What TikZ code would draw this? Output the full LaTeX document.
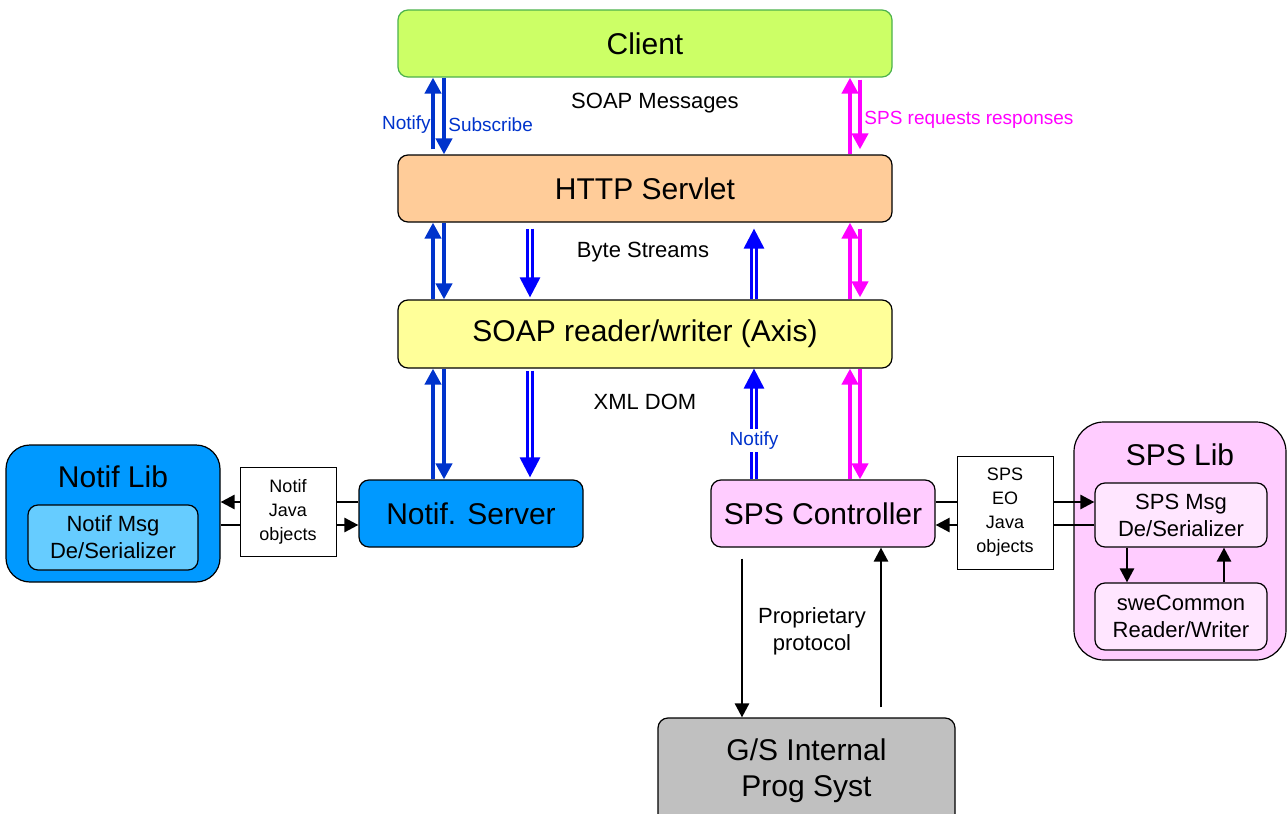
\documentclass[tikz,border=0pt]{standalone}
\usepackage{fontspec}
\setmainfont{Liberation Sans}
\usetikzlibrary{arrows.meta}

\definecolor{clientgreen}{HTML}{CCFF66}
\definecolor{servletorange}{HTML}{FFCC99}
\definecolor{soapyellow}{HTML}{FFFF99}
\definecolor{notifblue}{HTML}{0099FF}
\definecolor{notiflight}{HTML}{66CCFF}
\definecolor{spspink}{HTML}{FFCCFF}
\definecolor{spslight}{HTML}{FFE6FF}
\definecolor{gsgray}{HTML}{C0C0C0}
\definecolor{darkblue}{HTML}{0033CC}
\definecolor{pureblue}{HTML}{0000FF}
\definecolor{magentapink}{HTML}{FF00FF}

\begin{document}
\begin{tikzpicture}[x=0.5pt, y=-0.5pt,
    box/.style={draw, rounded corners=5pt, line width=0.6pt, align=center,
      font=\fontsize{15}{18}\selectfont},
    title/.style={font=\fontsize{15}{18}\selectfont},
    subbox/.style={draw, rounded corners=5pt, line width=0.6pt, align=center,
      font=\fontsize{11}{13.5}\selectfont},
    objbox/.style={draw, fill=white, line width=0.5pt, align=center,
      font=\fontsize{9}{12}\selectfont},
    lbl/.style={font=\fontsize{11}{13.5}\selectfont, align=center},
    smalllbl/.style={anchor=west, inner sep=0pt, font=\fontsize{9.5}{11}\selectfont},
    bluearrow/.style={draw=darkblue, line width=2pt, -{Triangle[length=8pt,width=8pt]}},
    pinkarrow/.style={draw=magentapink, line width=2pt, -{Triangle[length=8pt,width=8pt]}},
    dblarrow/.style={draw=pureblue, double=white, double distance=0.6pt, line width=1.5pt,
      -{Triangle[length=10pt,width=10pt]}},
    blackarrow/.style={draw=black, line width=1.3pt, -{Triangle[length=7pt,width=7pt]}}]

  \clip (0,0) rectangle (1287,814);

  % main stack
  \node[box, fill=clientgreen, draw=green!40!gray, minimum width=247pt, minimum height=33.5pt] (client) at (645,43.5) {Client};
  \node[box, fill=servletorange, minimum width=247pt, minimum height=33.5pt] (servlet) at (645,188.5) {HTTP Servlet};
  \node[box, fill=soapyellow, minimum width=247pt, minimum height=34pt] (soap) at (645,334) {SOAP reader/writer (Axis)};

  % notification side
  \node[box, fill=notifblue, rounded corners=12pt, minimum width=107pt, minimum height=68.5pt] (nlib) at (113,513.5) {};
  \node[title] (nlibtitle) at (113,477) {Notif Lib};
  \node[subbox, fill=notiflight, minimum width=85pt, minimum height=32.5pt] (nmsg) at (113,537.5) {Notif Msg\\De/Serializer};
  \node[box, fill=notifblue, minimum width=112pt, minimum height=33.5pt] (nserver) at (471,513.5) {Notif. Server};

  % SPS side
  \node[box, fill=spspink, minimum width=112pt, minimum height=33.5pt] (spsctl) at (823,513.5) {SPS Controller};
  \node[box, fill=spspink, rounded corners=15pt, minimum width=106pt, minimum height=119pt] (spslib) at (1180,541) {};
  \node[title] (spslibtitle) at (1180,455) {SPS Lib};
  \node[subbox, fill=spslight, minimum width=86pt, minimum height=32pt] (spsmsg) at (1181,515) {SPS Msg\\De/Serializer};
  \node[subbox, fill=spslight, minimum width=86pt, minimum height=33.5pt] (swe) at (1181,616.5) {sweCommon\\Reader/Writer};
  \node[box, fill=gsgray, minimum width=148.5pt, minimum height=53pt] (gs) at (806.5,771) {G/S Internal\\Prog Syst};

  % labels
  \node[lbl] (soapmsg) at (655,103) {SOAP Messages};
  \node[lbl] (bytes) at (643,252) {Byte Streams};
  \node[lbl] (xmldom) at (645,402) {XML DOM};
  \node[smalllbl, text=darkblue, anchor=east] (notifylbl) at (431,125) {Notify};
  \node[smalllbl, text=darkblue] (subscribelbl) at (448,125) {Subscribe};
  \node[smalllbl, text=magentapink] (spsreq) at (864,120) {SPS requests responses};
  \node[lbl] (proto) at (812,631) {Proprietary\\protocol};

  % notify / subscribe path
  \draw[bluearrow, shorten <=2.5pt] (433,0 |- servlet.north) -- (433,0 |- client.south);
  \draw[bluearrow] (444,0 |- client.south) -- (444,0 |- servlet.north);
  \draw[bluearrow] (433,0 |- soap.north) -- (433,0 |- servlet.south);
  \draw[bluearrow] (444,0 |- servlet.south) -- (444,0 |- soap.north);
  \draw[bluearrow] (433,0 |- nserver.north) -- (433,0 |- soap.south);
  \draw[bluearrow] (444,0 |- soap.south) -- (444,0 |- nserver.north);

  \draw[dblarrow, shorten <=3pt, shorten >=1pt] (530,0 |- servlet.south) -- (530,0 |- soap.north);
  \draw[dblarrow, shorten <=1pt, shorten >=1pt] (530,0 |- soap.south) -- (530,0 |- nserver.north);
  \draw[dblarrow, shorten >=3pt] (754,0 |- soap.north) -- (754,0 |- servlet.south);
  \draw[dblarrow] (754,0 |- spsctl.north) -- (754,0 |- soap.south)
    node[pos=0.35, fill=white, inner sep=1.5pt, text=darkblue, font=\fontsize{9.5}{11}\selectfont] (notifyctl) {Notify};

  % SPS requests path
  \draw[pinkarrow] (850,0 |- servlet.north) -- (850,0 |- client.south);
  \draw[pinkarrow, shorten <=1pt, shorten >=2.5pt] (860,0 |- client.south) -- (860,0 |- servlet.north);
  \draw[pinkarrow] (850,0 |- soap.north) -- (850,0 |- servlet.south);
  \draw[pinkarrow, shorten <=3pt, shorten >=1pt] (860,0 |- servlet.south) -- (860,0 |- soap.north);
  \draw[pinkarrow] (850,0 |- spsctl.north) -- (850,0 |- soap.south);
  \draw[pinkarrow] (860,0 |- soap.south) -- (860,0 |- spsctl.north);

  % java object exchanges
  \draw[blackarrow] (nserver.west |- 0,502) -- (nlib.east |- 0,502);
  \draw[blackarrow] (nlib.east |- 0,525) -- (nserver.west |- 0,525);
  \node[objbox, minimum width=48pt, minimum height=44.5pt] (njava) at (288,511.5) {Notif\\Java\\objects};

  \draw[blackarrow] (spsctl.east |- 0,502) -- (spsmsg.west |- 0,502);
  \draw[blackarrow] (spsmsg.west |- 0,525) -- (spsctl.east |- 0,525);
  \node[objbox, minimum width=48pt, minimum height=56.5pt] (spsjava) at (1005,512.5) {SPS\\EO\\Java\\objects};

  \draw[blackarrow] (1127,0 |- spsmsg.south) -- (1127,0 |- swe.north);
  \draw[blackarrow] (1224,0 |- swe.north) -- (1224,0 |- spsmsg.south);

  % proprietary link
  \draw[blackarrow, shorten <=5.5pt] (742,0 |- spsctl.south) -- (742,0 |- gs.north);
  \draw[blackarrow, shorten <=5pt] (881,0 |- gs.north) -- (881,0 |- spsctl.south);
\end{tikzpicture}
\end{document}
